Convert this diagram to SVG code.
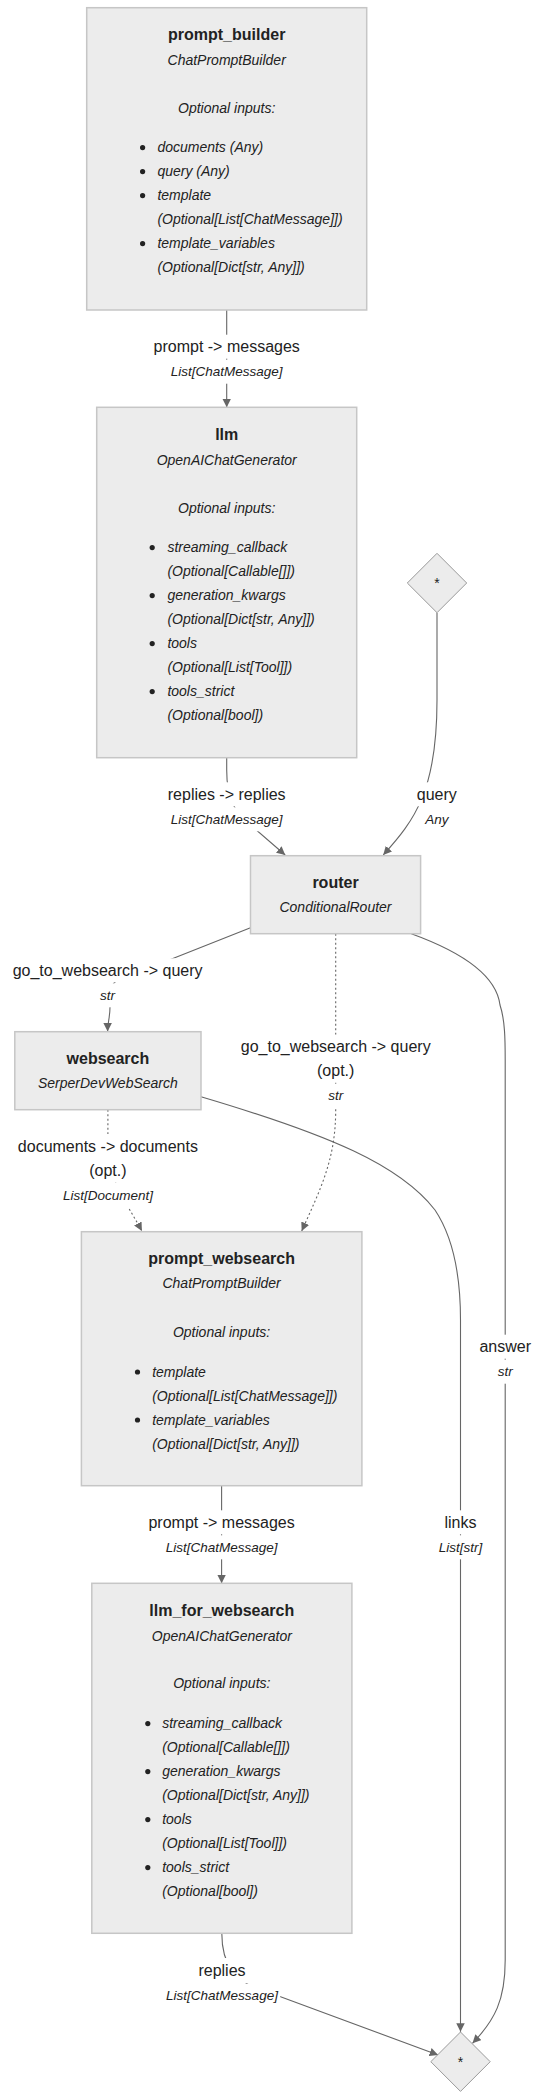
<svg xmlns="http://www.w3.org/2000/svg" width="539" height="2100" viewBox="0 0 539 2100">
<style>
text{font-family:"Liberation Sans",Arial,Helvetica,sans-serif;fill:#222}
.title{font-size:16px;font-weight:bold;text-anchor:middle}
.sub{font-size:14px;font-style:italic;text-anchor:middle}
.item{font-size:14px;font-style:italic}
.lbl{font-size:16px;text-anchor:middle}
.typ{font-size:13.5px;font-style:italic;text-anchor:middle}
.star{font-size:14px;text-anchor:middle}
.box{fill:#ececec;stroke:#c6c6c6;stroke-width:1.5}
.dia{fill:#ececec;stroke:#9a9a9a;stroke-width:1}
.dot{fill:#222}
.edge{fill:none;stroke:#666;stroke-width:1.1}
.dash{stroke-dasharray:2 2.5}
.bg{fill:#fff}
</style>
<defs>
<marker id="arrow" viewBox="0 0 10 10" refX="10" refY="5" markerWidth="8.5" markerHeight="8.5" markerUnits="userSpaceOnUse" orient="auto">
<path d="M0,0 L10,5 L0,10 z" fill="#666"/>
</marker>
</defs>

<g id="connectors">
<g id="e-prompt_builder-llm">
<path class="edge" d="M226.7,310 L226.7,407.3" marker-end="url(#arrow)"/>
<rect class="bg" x="152" y="334.7" width="149.4" height="24"/>
<rect class="bg" x="168.5" y="359.7" width="116.4" height="24"/>
<text class="lbl" x="226.7" y="352.3">prompt -&gt; messages</text>
<text class="typ" x="226.7" y="376.4">List[ChatMessage]</text>
</g>
<g id="e-llm-router">
<path class="edge" d="M226.7,757.7 L226.7,770 C226.7,800 235,812 250,824.5 L285.2,855" marker-end="url(#arrow)"/>
<rect class="bg" x="165.8" y="782.3" width="121.8" height="24"/>
<rect class="bg" x="168.5" y="807.3" width="116.4" height="24"/>
<text class="lbl" x="226.7" y="799.9">replies -&gt; replies</text>
<text class="typ" x="226.7" y="824">List[ChatMessage]</text>
</g>
<g id="e-input-router">
<path class="edge" d="M437,612.7 L437,700 C437,790 415,820 383.2,855" marker-end="url(#arrow)"/>
<rect class="bg" x="414.8" y="782.3" width="44" height="24"/>
<rect class="bg" x="423.6" y="807.3" width="26.4" height="24"/>
<text class="lbl" x="436.8" y="799.9">query</text>
<text class="typ" x="436.8" y="824">Any</text>
</g>
<g id="e-router-websearch">
<path class="edge" d="M250.5,927.7 L173.5,958.3 C140,971.5 112,975 111,990 L110,1007 C110,1018 107.6,1022 107.6,1031.5" marker-end="url(#arrow)"/>
<rect class="bg" x="12.8" y="958.3" width="189.7" height="24"/>
<rect class="bg" x="97.9" y="983.3" width="19.4" height="24"/>
<text class="lbl" x="107.6" y="975.9">go_to_websearch -&gt; query</text>
<text class="typ" x="107.6" y="1000">str</text>
</g>
<g id="e-router-prompt_websearch">
<path class="edge dash" d="M335.7,933.7 L335.7,1110 C335.7,1160 320,1190 301.7,1231" marker-end="url(#arrow)"/>
<rect class="bg" x="240.8" y="1034.7" width="189.7" height="24"/>
<rect class="bg" x="315.1" y="1058.7" width="41.2" height="24"/>
<rect class="bg" x="326" y="1083.7" width="19.4" height="24"/>
<text class="lbl" x="335.7" y="1052.3">go_to_websearch -&gt; query</text>
<text class="lbl" x="335.7" y="1076.3">(opt.)</text>
<text class="typ" x="335.7" y="1100.4">str</text>
</g>
<g id="e-websearch-prompt_websearch">
<path class="edge dash" d="M107.9,1109.7 L107.9,1140 C107.9,1180 125,1200 141.9,1231" marker-end="url(#arrow)"/>
<rect class="bg" x="16" y="1134" width="183.8" height="24"/>
<rect class="bg" x="87.3" y="1158.7" width="41.2" height="24"/>
<rect class="bg" x="60.7" y="1183.7" width="94.5" height="24"/>
<text class="lbl" x="107.9" y="1151.6">documents -&gt; documents</text>
<text class="lbl" x="107.9" y="1176.3">(opt.)</text>
<text class="typ" x="107.9" y="1200.4">List[Document]</text>
</g>
<g id="e-websearch-output">
<path class="edge" d="M201,1096.7 C330,1135 400,1165 435,1210 C455,1240 460.5,1280 460.5,1320 L460.5,2031.7" marker-end="url(#arrow)"/>
<rect class="bg" x="442.4" y="1510.3" width="36.1" height="24"/>
<rect class="bg" x="436.6" y="1535.3" width="47.8" height="24"/>
<text class="lbl" x="460.5" y="1527.9">links</text>
<text class="typ" x="460.5" y="1552">List[str]</text>
</g>
<g id="e-router-output">
<path class="edge" d="M411.3,933.7 C470,955 497,980 500,1005 C505,1020 505.2,1040 505.2,1060 L505.2,1960 C505.2,2000 495,2020 472.5,2043.3" marker-end="url(#arrow)"/>
<rect class="bg" x="477.4" y="1334.7" width="55.6" height="24"/>
<rect class="bg" x="495.5" y="1359.7" width="19.4" height="24"/>
<text class="lbl" x="505.2" y="1352.3">answer</text>
<text class="typ" x="505.2" y="1376.4">str</text>
</g>
<g id="e-prompt_websearch-llm_for_websearch">
<path class="edge" d="M221.6,1485.7 L221.6,1583.3" marker-end="url(#arrow)"/>
<rect class="bg" x="146.9" y="1510.3" width="149.4" height="24"/>
<rect class="bg" x="163.4" y="1535.3" width="116.4" height="24"/>
<text class="lbl" x="221.6" y="1527.9">prompt -&gt; messages</text>
<text class="typ" x="221.6" y="1552">List[ChatMessage]</text>
</g>
<g id="e-llm_for_websearch-output">
<path class="edge" d="M221.8,1933.3 C221.8,1965 235,1983 265,1991 L438.1,2055" marker-end="url(#arrow)"/>
<rect class="bg" x="195" y="1958" width="54" height="25"/>
<rect class="bg" x="163.8" y="1983.7" width="116.4" height="24"/>
<text class="lbl" x="222" y="1975.6">replies</text>
<text class="typ" x="222" y="2000.4">List[ChatMessage]</text>
</g>
</g>

<g id="prompt_builder">
<rect class="box" x="86.7" y="7.7" width="280" height="302.3"/>
<text class="title" x="226.7" y="40">prompt_builder</text>
<text class="sub" x="226.7" y="65">ChatPromptBuilder</text>
<text class="sub" x="226.7" y="112.7">Optional inputs:</text>
<circle class="dot" cx="142.6" cy="147.6" r="2.6"/>
<text class="item" x="157.4" y="152.3">documents (Any)</text>
<circle class="dot" cx="142.6" cy="171.6" r="2.6"/>
<text class="item" x="157.4" y="176.3">query (Any)</text>
<circle class="dot" cx="142.6" cy="195.6" r="2.6"/>
<text class="item" x="157.4" y="200.3">template</text>
<text class="item" x="157.4" y="224.3">(Optional[List[ChatMessage]])</text>
<circle class="dot" cx="142.6" cy="243.6" r="2.6"/>
<text class="item" x="157.4" y="248.3">template_variables</text>
<text class="item" x="157.4" y="272.3">(Optional[Dict[str, Any]])</text>
</g>

<g id="llm">
<rect class="box" x="96.7" y="407.3" width="260" height="350.4"/>
<text class="title" x="226.7" y="439.9">llm</text>
<text class="sub" x="226.7" y="465">OpenAIChatGenerator</text>
<text class="sub" x="226.7" y="512.7">Optional inputs:</text>
<circle class="dot" cx="152.2" cy="547.6" r="2.6"/>
<text class="item" x="167.4" y="552.3">streaming_callback</text>
<text class="item" x="167.4" y="576.3">(Optional[Callable[]])</text>
<circle class="dot" cx="152.2" cy="595.6" r="2.6"/>
<text class="item" x="167.4" y="600.3">generation_kwargs</text>
<text class="item" x="167.4" y="624.3">(Optional[Dict[str, Any]])</text>
<circle class="dot" cx="152.2" cy="643.6" r="2.6"/>
<text class="item" x="167.4" y="648.3">tools</text>
<text class="item" x="167.4" y="672.3">(Optional[List[Tool]])</text>
<circle class="dot" cx="152.2" cy="691.6" r="2.6"/>
<text class="item" x="167.4" y="696.3">tools_strict</text>
<text class="item" x="167.4" y="720.3">(Optional[bool])</text>
</g>

<g id="input">
<polygon class="dia" points="437,553.3 466.7,583 437,612.7 407.3,583"/>
<text class="star" x="437" y="588">*</text>
</g>

<g id="router">
<rect class="box" x="250.5" y="855.7" width="170.1" height="78"/>
<text class="title" x="335.5" y="887.9">router</text>
<text class="sub" x="335.5" y="912.3">ConditionalRouter</text>
</g>

<g id="websearch">
<rect class="box" x="14.8" y="1031.7" width="186.2" height="78"/>
<text class="title" x="107.9" y="1063.9">websearch</text>
<text class="sub" x="107.9" y="1088.3">SerperDevWebSearch</text>
</g>

<g id="prompt_websearch">
<rect class="box" x="81.4" y="1231.7" width="280.5" height="254"/>
<text class="title" x="221.6" y="1263.9">prompt_websearch</text>
<text class="sub" x="221.6" y="1288.3">ChatPromptBuilder</text>
<text class="sub" x="221.6" y="1336.7">Optional inputs:</text>
<circle class="dot" cx="137.5" cy="1372" r="2.6"/>
<text class="item" x="152.2" y="1376.7">template</text>
<text class="item" x="152.2" y="1400.7">(Optional[List[ChatMessage]])</text>
<circle class="dot" cx="137.5" cy="1420" r="2.6"/>
<text class="item" x="152.2" y="1424.7">template_variables</text>
<text class="item" x="152.2" y="1448.7">(Optional[Dict[str, Any]])</text>
</g>

<g id="llm_for_websearch">
<rect class="box" x="91.8" y="1583.3" width="260.1" height="350"/>
<text class="title" x="221.8" y="1615.6">llm_for_websearch</text>
<text class="sub" x="221.8" y="1640.7">OpenAIChatGenerator</text>
<text class="sub" x="221.8" y="1688.3">Optional inputs:</text>
<circle class="dot" cx="147.8" cy="1723.6" r="2.6"/>
<text class="item" x="162.2" y="1728.3">streaming_callback</text>
<text class="item" x="162.2" y="1752.3">(Optional[Callable[]])</text>
<circle class="dot" cx="147.8" cy="1771.6" r="2.6"/>
<text class="item" x="162.2" y="1776.3">generation_kwargs</text>
<text class="item" x="162.2" y="1800.3">(Optional[Dict[str, Any]])</text>
<circle class="dot" cx="147.8" cy="1819.6" r="2.6"/>
<text class="item" x="162.2" y="1824.3">tools</text>
<text class="item" x="162.2" y="1848.3">(Optional[List[Tool]])</text>
<circle class="dot" cx="147.8" cy="1867.6" r="2.6"/>
<text class="item" x="162.2" y="1872.3">tools_strict</text>
<text class="item" x="162.2" y="1896.3">(Optional[bool])</text>
</g>

<g id="output">
<polygon class="dia" points="460.5,2032 490.2,2061.7 460.5,2091.4 430.8,2061.7"/>
<text class="star" x="460.5" y="2066.5">*</text>
</g>
</svg>
